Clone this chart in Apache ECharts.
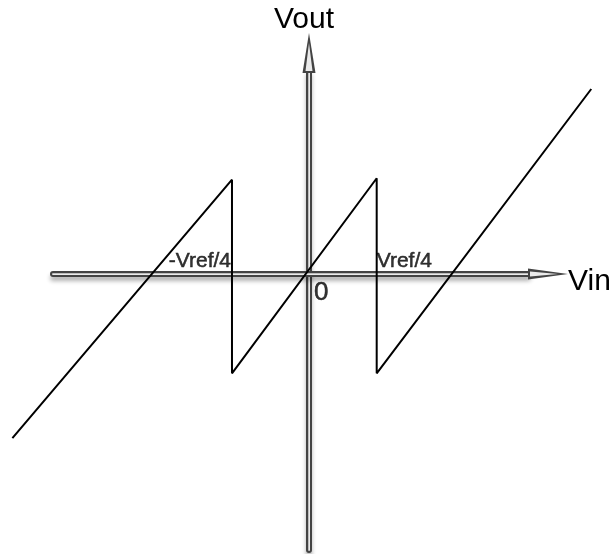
<!DOCTYPE html>
<html>
<head>
<meta charset="utf-8">
<script src="https://cdn.jsdelivr.net/npm/echarts@6/dist/echarts.min.js"></script>
<style>
  html, body { margin: 0; padding: 0; background: #fff; }
  #chart-container { width: 613px; height: 554px; }
</style>
</head>
<body>
<div id="chart-container"></div>
<script>
// sawtooth transfer curve, Vin in units of Vref/4
const sawVin = [-4.12, -1.07, -1.07, 0.94, 0.94, 3.92];
const sawVout = [-2.28, 1.31, -1.38, 1.33, -1.38, 2.57];

// labels along the Vin axis
const tickNames = ['-Vref/4', '0', 'Vref/4'];
const tickVin = [-1.07, 0, 0.94];

// visible axis ranges, and the full-canvas range used for the curve
const xRange = [-3.556, 3.042];
const yRange = [-3.833, 2.792];
const xFull = [-4.292, 4.222];
const yFull = [-3.889, 3.806];

document.addEventListener('DOMContentLoaded', () => {
    const chart = echarts.init(document.getElementById('chart-container'));
    const font = '"Liberation Sans", Arial, Helvetica, sans-serif';

    const hidden = { show: false };

    // one layer of the drawn axis arrow
    const axisLayer = (range, color, width, size, offset, withShadow) => ({
        type: 'value',
        gridIndex: 0,
        min: range[0],
        max: range[1],
        axisLine: {
            onZero: true,
            onZeroAxisIndex: 0,
            symbol: size ? ['none', 'triangle'] : 'none',
            symbolSize: size || 10,
            symbolOffset: [0, offset || 0],
            lineStyle: withShadow
                ? { color: color, width: width, shadowColor: 'rgba(0,0,0,0.3)', shadowBlur: 4, shadowOffsetY: 4 }
                : { color: color, width: width },
        },
        axisTick: hidden,
        axisLabel: hidden,
        splitLine: hidden,
    });

    const xOuter = axisLayer(xRange, '#444444', 6, [11, 40], 20, true);
    xOuter.name = 'Vin';
    xOuter.nameLocation = 'end';
    xOuter.nameGap = 40;
    xOuter.nameTextStyle = { fontSize: 30, color: '#000', fontFamily: font, verticalAlign: 'top', lineHeight: 16 };

    const yOuter = axisLayer(yRange, '#444444', 6, [13, 40], 20, true);
    yOuter.name = 'Vout';
    yOuter.nameLocation = 'end';
    yOuter.nameGap = 38;
    yOuter.nameTextStyle = { fontSize: 30, color: '#000', fontFamily: font, padding: [0, 10, 0, 0] };

    const sawData = sawVin.map((v, i) => [v, sawVout[i]]);

    const labelStyles = [
        { fontSize: 21, position: [-1, -2], align: 'right', verticalAlign: 'bottom' },
        { fontSize: 26, position: [5, 6], align: 'left', verticalAlign: 'top' },
        { fontSize: 21, position: [0, -2], align: 'left', verticalAlign: 'bottom' },
    ];
    const tickData = tickNames.map((n, i) => ({
        name: n,
        value: [tickVin[i], 0],
        label: Object.assign({
            show: true,
            formatter: n,
            color: '#000',
            fontFamily: font,
            textBorderColor: '#000',
            textBorderWidth: 0.5,
        }, labelStyles[i]),
    }));

    const option = {
        animation: false,
        backgroundColor: '#ffffff',
        textStyle: { fontFamily: font },
        grid: [
            { left: 53, right: 85, top: 73, bottom: 4, outerBoundsMode: 'none' },
            { left: 0, right: 0, top: 0, bottom: 0, outerBoundsMode: 'none' },
        ],
        xAxis: [
            xOuter,
            axisLayer(xRange, '#bdbdbd', 2),
            axisLayer(xRange, '#ebebeb', 1, [5, 28], 16),
            { type: 'value', gridIndex: 1, min: xFull[0], max: xFull[1], show: false },
        ],
        yAxis: [
            yOuter,
            axisLayer(yRange, '#bdbdbd', 2),
            axisLayer(yRange, '#ebebeb', 1, [7, 28], 16),
            { type: 'value', gridIndex: 1, min: yFull[0], max: yFull[1], show: false },
        ],
        series: [
            {
                type: 'line',
                xAxisIndex: 3,
                yAxisIndex: 3,
                data: sawData,
                showSymbol: false,
                symbol: 'none',
                lineStyle: { color: '#000', width: 2 },
                z: 5,
            },
            {
                type: 'scatter',
                xAxisIndex: 3,
                yAxisIndex: 3,
                data: tickData,
                symbolSize: 0,
                z: 6,
            },
        ],
    };

    chart.setOption(option);
});
</script>
</body>
</html>
